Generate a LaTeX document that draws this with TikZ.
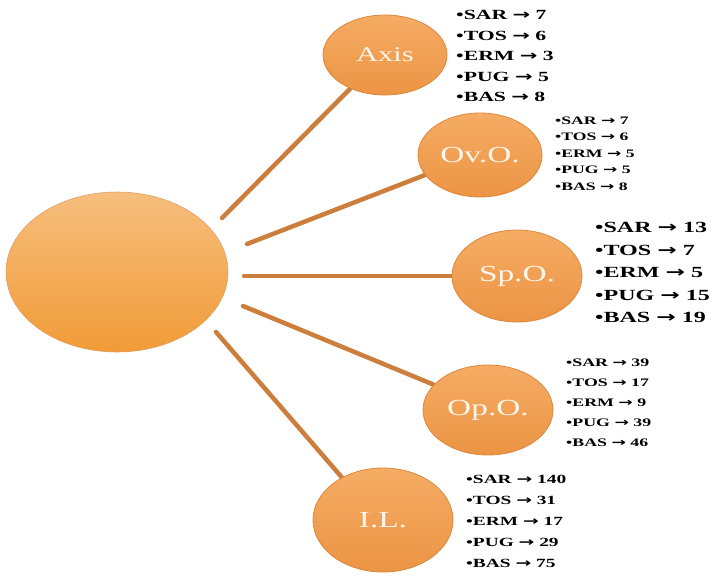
\documentclass[tikz,border=0pt]{standalone}
\usepackage{fontspec}
\setmainfont{Liberation Serif}
\newfontfamily\widelist[FakeStretch=1.55]{Liberation Serif}
\newfontfamily\widelabel[FakeStretch=1.45]{Liberation Serif}
\newfontfamily\arrowfont[FakeStretch=1.5]{DejaVu Sans}
\newcommand{\rarr}{{\arrowfont →}}
\usetikzlibrary{shapes.geometric,backgrounds}
\definecolor{linkc}{RGB}{205,125,60}
\definecolor{balltop}{RGB}{245,172,100}
\definecolor{ballbot}{RGB}{236,148,68}
\definecolor{balledge}{RGB}{220,135,60}
\definecolor{hubtop}{RGB}{246,190,125}
\definecolor{hubbot}{RGB}{241,155,55}
\definecolor{labelc}{RGB}{255,246,236}
\tikzset{
  link/.style={draw=linkc, line width=4.5pt, line cap=round},
  ball/.style={ellipse, inner sep=0pt, top color=balltop, bottom color=ballbot,
               draw=balledge, line width=0.8pt, text=labelc,
               font=\widelabel\fontsize{23}{23}\selectfont},
  hub/.style={ellipse, inner sep=0pt, top color=hubtop, bottom color=hubbot,
              draw=balledge!80, line width=0.6pt},
  list/.style={inner sep=0pt, anchor=north west, align=left, text=black}
}
\begin{document}
\begin{tikzpicture}[x=1pt,y=-1pt]
\useasboundingbox (0,0) rectangle (717,579);
% nodes
\node[hub, minimum width=222pt, minimum height=160pt] (hub) at (117,272) {};
\node[ball, minimum width=124pt, minimum height=80pt, font=\widelabel\fontsize{21}{21}\selectfont] (axis) at (385,55) {Axis};
\node[ball, minimum width=124pt, minimum height=84pt] (ovo) at (480,155) {Ov.O.};
\node[ball, minimum width=130pt, minimum height=92pt] (spo) at (517,276) {Sp.O.};
\node[ball, minimum width=130pt, minimum height=90pt] (opo) at (488,410) {Op.O.};
\node[ball, minimum width=140pt, minimum height=104pt] (il) at (383,520) {I.L.};
% connector start points
\coordinate (s1) at (222,218);
\coordinate (s2) at (247,244);
\coordinate (s3) at (244,276);
\coordinate (s4) at (243,306);
\coordinate (s5) at (216,332);
\begin{scope}[on background layer]
\draw[link] (s1) -- (axis.224);
\draw[link] (s2) -- (ovo.200);
\draw[link] (s3) -- (spo.180);
\draw[link] (s4) -- (opo.155);
\draw[link] (s5) -- (il.134);
\end{scope}
% lists
\node[list, font=\widelist\bfseries\fontsize{14}{20.5}\selectfont] (axl) at (456,10.5)
  {•SAR \rarr\ 7\\•TOS \rarr\ 6\\•ERM \rarr\ 3\\•PUG \rarr\ 5\\•BAS \rarr\ 8};
\node[list, font=\widelist\bfseries\fontsize{11.4}{16.5}\selectfont] (ovl) at (555,116.5)
  {•SAR \rarr\ 7\\•TOS \rarr\ 6\\•ERM \rarr\ 5\\•PUG \rarr\ 5\\•BAS \rarr\ 8};
\node[list, font=\widelist\bfseries\fontsize{15.5}{22.5}\selectfont] (spl) at (595,222.5)
  {•SAR \rarr\ 13\\•TOS \rarr\ 7\\•ERM \rarr\ 5\\•PUG \rarr\ 15\\•BAS \rarr\ 19};
\node[list, font=\widelist\bfseries\fontsize{11.5}{20}\selectfont] (opl) at (566,359)
  {•SAR \rarr\ 39\\•TOS \rarr\ 17\\•ERM \rarr\ 9\\•PUG \rarr\ 39\\•BAS \rarr\ 46};
\node[list, font=\widelist\bfseries\fontsize{12.5}{21}\selectfont] (ill) at (466,474.5)
  {•SAR \rarr\ 140\\•TOS \rarr\ 31\\•ERM \rarr\ 17\\•PUG \rarr\ 29\\•BAS \rarr\ 75};
\end{tikzpicture}
\end{document}
